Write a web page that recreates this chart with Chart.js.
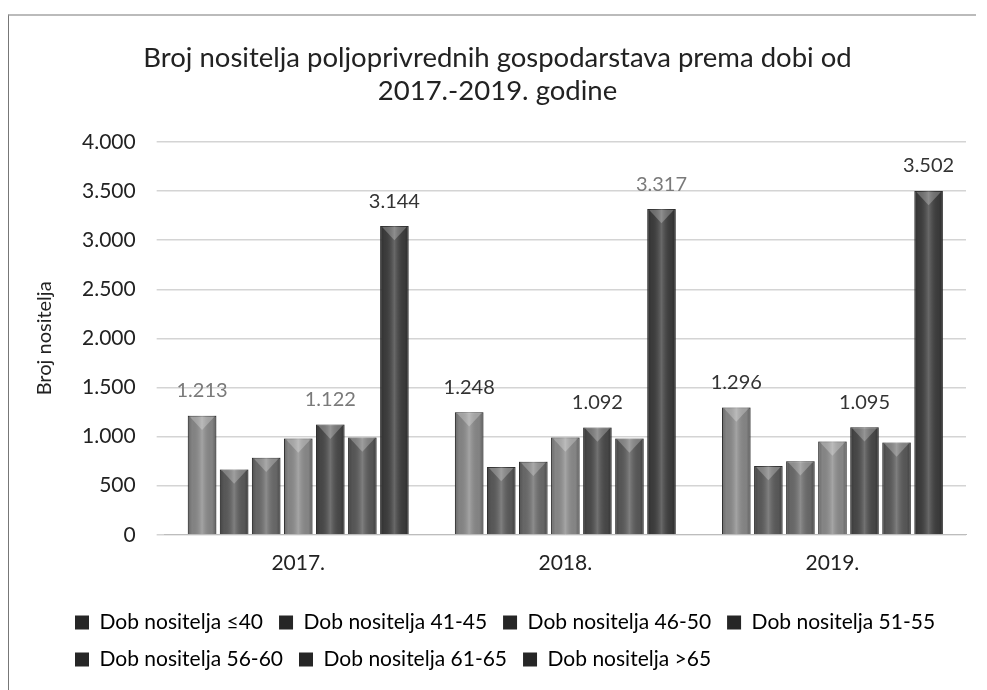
<!DOCTYPE html>
<html>
<head>
<meta charset="utf-8">
<script src="https://cdn.jsdelivr.net/npm/chart.js@4.4.1/dist/chart.umd.min.js"></script>
<style>
  html, body { margin: 0; padding: 0; background: #fff; }
  #box { position: absolute; left: 8px; top: 14px; width: 968px; height: 676px; border-left: 1px solid #777; border-top: 2px solid #bbb; box-sizing: border-box; }
  canvas { display: block; }
</style>
</head>
<body>
<div id="box"><canvas id="myChart" width="967" height="674"></canvas></div>
<script>
// kategorije i serije
const godine = ['2017.', '2018.', '2019.'];
const skupine = ['Dob nositelja ≤40', 'Dob nositelja 41-45', 'Dob nositelja 46-50', 'Dob nositelja 51-55',
  'Dob nositelja 56-60', 'Dob nositelja 61-65', 'Dob nositelja >65'];
const dob40 = [1213, 1248, 1296];
const dob4145 = [665, 690, 700];
const dob4650 = [785, 745, 750];
const dob5155 = [980, 990, 950];
const dob5660 = [1122, 1092, 1095];
const dob6165 = [990, 980, 940];
const dob65 = [3144, 3317, 3502];
const yTicks = [0, 500, 1000, 1500, 2000, 2500, 3000, 3500, 4000];

const boje = ['#8a8a8a', '#5c5c5c', '#6c6c6c', '#8c8c8c', '#4a4a4a', '#5a5a5a', '#3e3e3e'];
// koje vrijednosti imaju oznaku (serija -> boja teksta po godini)
const oznake = { 0: ['#7a7a7a', '#333', '#333'], 4: ['#7a7a7a', '#333', '#333'], 6: ['#333', '#7a7a7a', '#333'] };

const fmt = v => v.toLocaleString('de-DE');
const FONT = 'Lato';

const bevel = {
  id: 'bevel',
  afterLayout(chart) {
    // legenda počinje ispod osi, kao u izvorniku
    chart.legend.left += 30;
  },
  afterDatasetsDraw(chart) {
    const c = chart.ctx;
    chart.data.datasets.forEach((ds, i) => {
      chart.getDatasetMeta(i).data.forEach(bar => {
        const l = bar.x - bar.width / 2, w = bar.width, t = bar.y, h = bar.base - bar.y;
        const g = c.createLinearGradient(l, 0, l + w, 0);
        g.addColorStop(0, 'rgba(0,0,0,0.25)');
        g.addColorStop(0.15, 'rgba(0,0,0,0.05)');
        g.addColorStop(0.5, 'rgba(255,255,255,0.22)');
        g.addColorStop(0.85, 'rgba(0,0,0,0.05)');
        g.addColorStop(1, 'rgba(0,0,0,0.3)');
        c.save();
        c.fillStyle = g;
        c.fillRect(l, t, w, h);
        // gornji trokut
        c.fillStyle = 'rgba(255,255,255,0.25)';
        c.beginPath();
        c.moveTo(l + 2, t + 1);
        c.lineTo(l + w - 2, t + 1);
        c.lineTo(l + w / 2, t + w / 2);
        c.closePath();
        c.fill();
        c.restore();
      });
    });
  },
  afterDraw(chart) {
    const c = chart.ctx;
    c.save();
    c.font = '20px ' + FONT;
    c.textAlign = 'center';
    c.textBaseline = 'bottom';
    Object.keys(oznake).forEach(k => {
      const i = +k;
      chart.getDatasetMeta(i).data.forEach((bar, j) => {
        c.fillStyle = oznake[k][j];
        c.fillText(fmt(chart.data.datasets[i].data[j]), bar.x, bar.y - 15);
      });
    });
    c.restore();
  }
};

const serije = [dob40, dob4145, dob4650, dob5155, dob5660, dob6165, dob65];

new Chart(document.getElementById('myChart'), {
  type: 'bar',
  data: {
    labels: godine,
    datasets: serije.map((d, i) => ({
      label: skupine[i],
      data: d,
      backgroundColor: boje[i],
      borderColor: '#3a3a3a',
      borderWidth: 1,
      barPercentage: 0.89,
      categoryPercentage: 0.84
    }))
  },
  options: {
    responsive: false,
    animation: false,
    layout: { padding: { left: 20, right: 10, top: 10, bottom: 10 } },
    plugins: {
      title: {
        display: true,
        text: ['Broj nositelja poljoprivrednih gospodarstava prema dobi od', '2017.-2019. godine'],
        font: { family: FONT, size: 27.5, weight: 'normal' },
        color: '#222',
        padding: { top: 16, bottom: 34 },
        lineHeight: 1.31
      },
      legend: {
        position: 'bottom',
        align: 'start',
        labels: {
          font: { family: FONT, size: 21 },
          color: '#222',
          boxWidth: 14,
          boxHeight: 14,
          padding: 16,
          generateLabels(chart) {
            return chart.data.datasets.map((ds, i) => ({
              text: ds.label, fillStyle: '#262626', strokeStyle: '#262626', lineWidth: 0, datasetIndex: i, hidden: false
            }));
          }
        }
      },
      tooltip: { enabled: false }
    },
    scales: {
      x: {
        grid: { display: false },
        border: { color: '#bdbdbd' },
        afterFit: axis => { axis.height += 12; },
        ticks: { font: { family: FONT, size: 21 }, color: '#222', padding: 8 }
      },
      y: {
        min: 0,
        max: 4000,
        afterBuildTicks: axis => { axis.ticks = yTicks.map(v => ({ value: v })); },
        title: { display: true, text: 'Broj nositelja', font: { family: FONT, size: 20 }, color: '#222', padding: { bottom: 4 } },
        grid: { color: '#d4d4d4', lineWidth: 1.5 },
        border: { display: false },
        ticks: { callback: v => fmt(v), font: { family: FONT, size: 21 }, color: '#222', padding: 21 }
      }
    }
  },
  plugins: [bevel]
});
</script>
</body>
</html>
